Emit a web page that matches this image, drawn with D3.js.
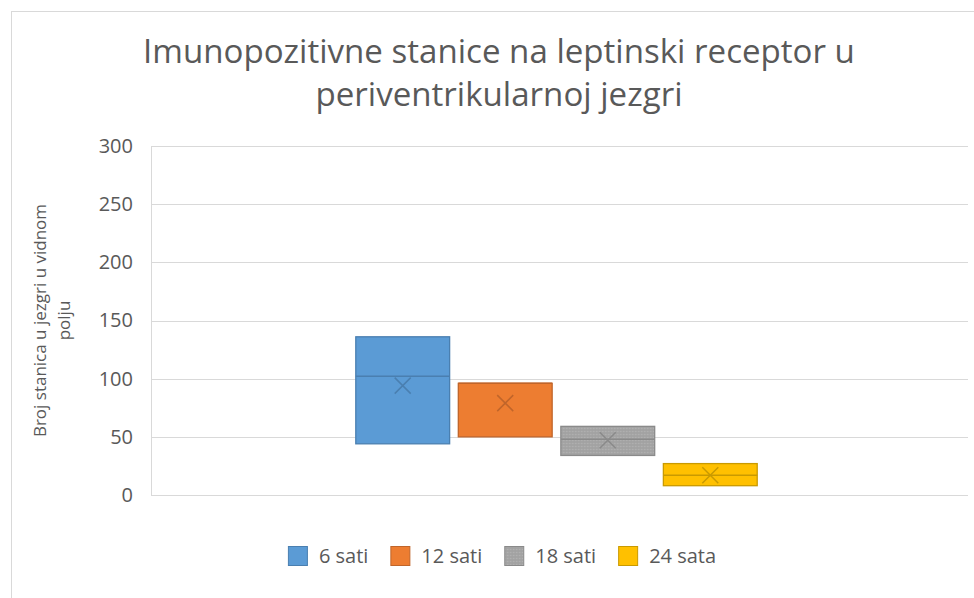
<!DOCTYPE html>
<meta charset="utf-8">
<style>
body { margin: 0; background: #fff; }
text { font-family: "Open Sans", sans-serif; fill: #595959; }
</style>
<body>
<svg id="chart" width="974" height="598"></svg>
<script src="https://cdn.jsdelivr.net/npm/d3@7"></script>
<script>

// values
var titleLines = ["Imunopozitivne stanice na leptinski receptor u", "periventrikularnoj jezgri"];
var yTitleLines = ["Broj stanica u jezgri u vidnom", "polju"];
var series = ["6 sati", "12 sati", "18 sati", "24 sata"];
var q1 = [44, 50, 34, 8];
var median = [102, 96, 48, 17];
var q3 = [136, 96, 59, 27];
var mean = [94, 79, 47, 17];
var yTicks = [0, 50, 100, 150, 200, 250, 300];

var fills = ["#5b9bd5", "#ed7d31", "url(#grayPat)", "#ffc000"];
var strokes = ["#4a7fb0", "#c0652a", "#8a8a8a", "#c99a00"];

var svg = d3.select("#chart"),
    margin = {top: 146, right: 6, bottom: 103, left: 151},
    width = 974 - margin.left - margin.right,
    height = 598 - margin.top - margin.bottom;

// grey fill has a fine dotted texture in the original
var pat = svg.append("defs").append("pattern")
    .attr("id", "grayPat")
    .attr("width", 3).attr("height", 3)
    .attr("patternUnits", "userSpaceOnUse");
pat.append("rect").attr("width", 3).attr("height", 3).attr("fill", "#a5a5a5");
pat.append("rect").attr("width", 1).attr("height", 1).attr("fill", "#b4b4b4");
pat.append("rect").attr("x", 1.5).attr("y", 1.5).attr("width", 1).attr("height", 1).attr("fill", "#9a9a9a");

// chart frame (runs off the right and bottom of the picture)
svg.append("rect")
    .attr("x", 11.5).attr("y", 11.5)
    .attr("width", 1000).attr("height", 1000)
    .attr("fill", "none")
    .attr("stroke", "#d9d9d9");

var y = d3.scaleLinear().domain([0, 300]).range([height, 0]);
var x0 = d3.scaleBand().domain([""]).range([0, width - 6]).padding(0.32);
var x1 = d3.scaleBand().domain(series).range([0, x0.bandwidth()]).padding(0.075);

var g = svg.append("g")
    .attr("transform", "translate(" + margin.left + "," + margin.top + ")");

// gridlines
g.selectAll(".grid")
    .data(yTicks)
  .enter().append("line")
    .attr("class", "grid")
    .attr("x1", 0).attr("x2", width)
    .attr("y1", function(d) { return Math.round(y(d)) + 0.5; })
    .attr("y2", function(d) { return Math.round(y(d)) + 0.5; })
    .attr("stroke", "#d9d9d9");

g.append("line")
    .attr("x1", 0.5).attr("x2", 0.5)
    .attr("y1", y(300)).attr("y2", y(0))
    .attr("stroke", "#d9d9d9");

// y axis labels
var yAxis = g.append("g")
    .call(d3.axisLeft(y).tickValues(yTicks).tickSize(0).tickPadding(18));
yAxis.select(".domain").remove();
yAxis.selectAll("text")
    .style("font-size", "20px")
    .style("font-family", "'Open Sans', sans-serif")
    .attr("fill", "#595959");

// boxes
var box = g.selectAll(".box")
    .data(series)
  .enter().append("g")
    .attr("class", "box")
    .attr("transform", function(d) { return "translate(" + (x0("") + x1(d)) + ",0)"; });

box.append("rect")
    .attr("x", 0.5)
    .attr("y", function(d, i) { return y(q3[i]); })
    .attr("width", x1.bandwidth() - 1)
    .attr("height", function(d, i) { return y(q1[i]) - y(q3[i]); })
    .attr("fill", function(d, i) { return fills[i]; })
    .attr("stroke", function(d, i) { return strokes[i]; })
    .attr("stroke-width", 1.3);

box.append("line")
    .attr("x1", 0.5).attr("x2", x1.bandwidth() - 0.5)
    .attr("y1", function(d, i) { return y(median[i]); })
    .attr("y2", function(d, i) { return y(median[i]); })
    .attr("stroke", function(d, i) { return strokes[i]; })
    .attr("stroke-width", 1.5);

// mean markers
var m = 8;
box.append("path")
    .attr("d", function(d, i) {
      var cx = x1.bandwidth() / 2, cy = y(mean[i]);
      return "M" + (cx - m) + "," + (cy - m) + "L" + (cx + m) + "," + (cy + m) +
             "M" + (cx - m) + "," + (cy + m) + "L" + (cx + m) + "," + (cy - m);
    })
    .attr("stroke", function(d, i) { return strokes[i]; })
    .attr("stroke-width", 1.5)
    .attr("fill", "none");

// title
var title = svg.append("text")
    .attr("x", 499)
    .attr("y", 63)
    .attr("text-anchor", "middle")
    .style("font-size", "30px");
title.selectAll("tspan")
    .data(titleLines)
  .enter().append("tspan")
    .attr("x", 499)
    .attr("dy", function(d, i) { return i ? 43 : 0; })
    .text(function(d) { return d; });
// squeeze to the width of the original title line
var tw = title.select("tspan").node().getComputedTextLength();
title.style("font-size", (30 * 712 / tw) + "px");

// y axis title
var yt = svg.append("text")
    .attr("transform", "translate(0," + (margin.top + height / 2) + ") rotate(-90)")
    .attr("text-anchor", "middle")
    .style("font-size", "17px");
yt.selectAll("tspan")
    .data(yTitleLines)
  .enter().append("tspan")
    .attr("x", 0)
    .attr("y", function(d, i) { return 46 + i * 24; })
    .text(function(d) { return d; });

// legend
var legend = svg.append("g").attr("transform", "translate(0,546)");
var lx = 0;
var items = legend.selectAll(".legend")
    .data(series)
  .enter().append("g")
    .attr("class", "legend");
items.append("rect")
    .attr("x", 0.5).attr("y", 0.5)
    .attr("width", 19).attr("height", 19)
    .attr("fill", function(d, i) { return fills[i]; })
    .attr("stroke", function(d, i) { return strokes[i]; });
items.append("text")
    .attr("x", 31)
    .attr("y", 17)
    .style("font-size", "20px")
    .text(function(d) { return d; });
items.each(function() {
  var w = d3.select(this).select("text").node().getComputedTextLength();
  d3.select(this).attr("transform", "translate(" + lx + ",0)");
  lx += 31 + w + 22;
});
var lw = lx - 22;
legend.attr("transform", "translate(" + (502 - lw / 2) + ",546)");

</script>
</body>
</html>
